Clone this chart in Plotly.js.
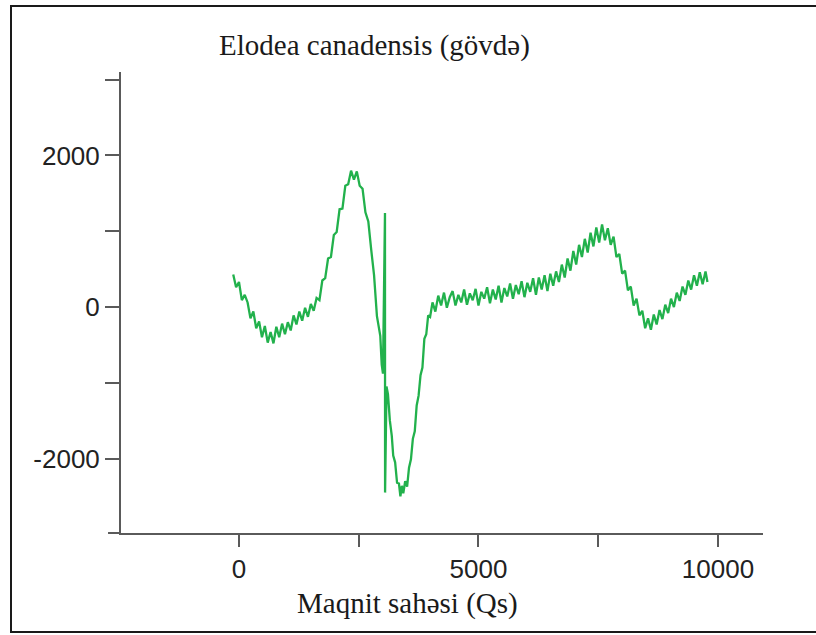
<!DOCTYPE html>
<html>
<head>
<meta charset="utf-8">
<script src="https://cdn.plot.ly/plotly-3.0.1.min.js"></script>
<style>html,body{margin:0;padding:0;background:#fff;}#chart{width:816px;height:635px;}</style>
</head>
<body>
<div id="chart"></div>
<script>
// Magnetic field (Qs)
const fieldQs = [
 -120,-60,0,60,120,180,240,300,360,420,480,540,600,660,720,780,840,900,960,1020,
 1080,1140,1200,1260,1320,1380,1440,1500,1560,1620,1680,1740,1800,1860,1920,1980,2040,2100,2160,2220,
 2280,2340,2400,2460,2520,2580,2640,2700,2760,2820,2880,
 2920,2950,2980,3006,3048,3050,3080,3110,3150,3190,3220,3260,3300,3340,3370,3400,3430,3470,3510,3550,
 3590,3630,3670,3710,3750,3790,3830,3870,3910,3950,3990,
 4040,4100,4160,4220,4280,4340,4400,4460,4520,4580,4640,4700,4760,4820,4880,4940,5000,5060,5120,5180,
 5240,5300,5360,5420,5480,5540,5600,5660,5720,5780,5840,5900,5960,6020,6080,6140,6200,6260,6320,6380,
 6440,6500,6560,6620,6680,6740,6800,6860,6920,6980,7040,7100,7160,7220,7280,7340,7400,7460,7520,7580,
 7640,7700,7760,7820,7880,7940,8000,8060,8120,8180,8240,8300,8360,8420,8480,8540,8600,8660,8720,8780,
 8840,8900,8960,9020,9080,9140,9200,9260,9320,9380,9440,9500,9560,9620,9680,9740,9780
];
// EPR signal (Elodea canadensis stem)
const signal = [
 430,260,330,90,160,60,-150,-60,-280,-190,-400,-250,-470,-330,-480,-260,-400,-220,-360,-200,
 -310,-110,-230,-60,-180,-10,-130,40,-50,120,90,350,380,640,660,950,990,1290,1300,1600,
 1620,1800,1680,1790,1600,1560,1250,1130,760,420,-120,
 -300,-380,-760,-880,1240,-2450,-1050,-1150,-1500,-1700,-1960,-2050,-2320,-2330,-2500,-2360,-2460,-2300,-2370,-2120,
 -2010,-1740,-1640,-1300,-1170,-900,-800,-420,-360,-110,-130,
 60,-60,150,20,190,-10,130,210,20,160,60,230,30,180,90,240,20,200,110,260,
 50,230,100,280,60,250,140,310,110,290,170,340,130,320,200,380,160,390,230,420,
 210,440,280,470,330,560,390,640,480,740,560,820,660,900,720,980,800,1050,850,1090,
 880,1040,820,930,660,700,440,480,220,270,20,110,-110,-50,-280,-150,-300,-100,-230,-40,
 -160,30,-80,110,0,190,80,270,160,350,230,420,280,460,300,470,330
];
// Axis ticks
const xTickVals = [0,2500,5000,7500,10000];
const xTickText = ['0','','5000','','10000'];
const yTickVals = [-2000,-1000,0,1000,2000,3000];
const yTickText = ['-2000','','0','','2000',''];

const axisColor = '#5a5a5a';
const trace = {
  x: fieldQs, y: signal, type: 'scatter', mode: 'lines',
  line: {color: 'rgb(34,177,76)', width: 2.3},
  hoverinfo: 'skip'
};
const layout = {
  width: 816, height: 635,
  margin: {l: 121, r: 53, t: 72, b: 102},
  paper_bgcolor: '#fff', plot_bgcolor: '#fff',
  showlegend: false,
  title: {text: 'Elodea canadensis (gövdə)', font: {family: 'Liberation Serif, Times New Roman, serif', size: 29, color: '#1a1a1a'},
          x: 374.5/816, xanchor: 'center', xref: 'container', y: 1 - 45/635, yanchor: 'middle', yref: 'container'},
  xaxis: {range: [-2463, 10940], showgrid: false, zeroline: false, showline: true, linecolor: axisColor, linewidth: 2,
          ticks: 'outside', ticklen: 12, tickwidth: 2, tickcolor: axisColor,
          tickmode: 'array', tickvals: xTickVals, ticktext: xTickText,
          tickfont: {family: 'Liberation Sans, Arial, sans-serif', size: 26, color: '#222'}},
  yaxis: {range: [-2983, 3102], showgrid: false, zeroline: false, showline: true, linecolor: axisColor, linewidth: 2,
          ticks: 'outside', ticklen: 14, tickwidth: 2, tickcolor: axisColor,
          tickmode: 'array', tickvals: yTickVals, ticktext: yTickText,
          tickfont: {family: 'Liberation Sans, Arial, sans-serif', size: 26, color: '#222'}},
  annotations: [{text: 'Maqnit sahəsi (Qs)', xref: 'paper', yref: 'paper', x: (407.5-121)/642, y: (533-603)/461,
                 xanchor: 'center', yanchor: 'middle', showarrow: false,
                 font: {family: 'Liberation Serif, Times New Roman, serif', size: 29, color: '#1a1a1a'}}],
  shapes: [
    {type: 'line', xref: 'paper', yref: 'paper', x0: -0.0202, x1: 0, y0: 0, y1: 0, line: {color: axisColor, width: 2}},
    {type: 'rect', xref: 'paper', yref: 'paper', x0: (11-121)/642, x1: 1.2, y0: (533-632)/461, y1: (533-6)/461,
     line: {color: '#1a1a1a', width: 2}, layer: 'above'}
  ]
};
Plotly.newPlot('chart', [trace], layout, {staticPlot: true, displayModeBar: false});
</script>
</body>
</html>
